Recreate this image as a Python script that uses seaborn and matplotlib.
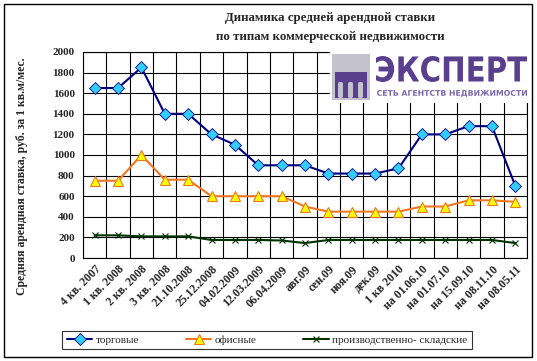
import numpy as np
import pandas as pd
import matplotlib
matplotlib.use('Agg')
import matplotlib.pyplot as plt
import seaborn as sns
from matplotlib.textpath import TextPath
from matplotlib.font_manager import FontProperties
from matplotlib.patches import PathPatch, Rectangle, FancyBboxPatch
from matplotlib.transforms import Affine2D

# %%
periods = ['4 кв. 2007', '1 кв. 2008', '2 кв. 2008', '3 кв. 2008', '21.10.2008',
           '25.12.2008', '04.02.2009', '12.03.2009', '06.04.2009', 'авг.09',
           'сен.09', 'ноя.09', 'дек.09', '1 кв 2010', 'на 01.06.10',
           'на 01.07.10', 'на 15.09.10', 'на 08.11.10', 'на 08.05.11']
retail = [1650, 1650, 1850, 1400, 1400, 1200, 1100, 900, 900, 900,
          820, 820, 820, 870, 1200, 1200, 1280, 1280, 700]
office = [750, 750, 1000, 760, 760, 600, 600, 600, 600, 500,
          450, 450, 450, 450, 500, 500, 560, 560, 545]
warehouse = [220, 220, 210, 210, 210, 175, 175, 175, 170, 145,
             175, 175, 175, 175, 175, 175, 175, 175, 145]
series_names = ['торговые', 'офисные', 'производственно- складские']
yticks = list(range(0, 2001, 200))

df = pd.DataFrame({'period': periods, 'retail': retail,
                   'office': office, 'warehouse': warehouse})
df['pos'] = np.arange(len(periods))

# %%
sns.set_style('white')
plt.rcParams['font.family'] = ['Liberation Serif', 'DejaVu Serif']

W, H = 537, 361
fig = plt.figure(figsize=(W / 100, H / 100), dpi=100)
ax = fig.add_axes([83 / W, 1 - 258 / H, 444 / W, 206 / H])

sns.lineplot(data=df, x='pos', y='retail', ax=ax, color='#000080', lw=1.5,
             marker='D', markersize=6, markerfacecolor='#33CCFF',
             markeredgecolor='#000080', markeredgewidth=0.6, label=series_names[0], zorder=5)
sns.lineplot(data=df, x='pos', y='office', ax=ax, color='#F07820', lw=1.5,
             marker='^', markersize=7, markerfacecolor='#FFFF00',
             markeredgecolor='#F07820', markeredgewidth=0.8, label=series_names[1], zorder=4)
sns.lineplot(data=df, x='pos', y='warehouse', ax=ax, color='#003300', lw=1.5,
             marker='x', markersize=5, markeredgecolor='#003300',
             markeredgewidth=0.8, label=series_names[2], zorder=3)

ax.set_xlim(-0.5, len(periods) - 0.5)
ax.set_ylim(0, 2000)
ax.set_yticks(yticks)
ax.set_yticklabels([str(v) for v in yticks], fontsize=8, fontweight='bold')
ax.set_xticks(np.arange(-0.5, len(periods)))
ax.set_xticklabels([])
ax.set_xticks(df['pos'], minor=True)
ax.set_xticklabels(periods, minor=True, rotation=45, ha='right',
                   rotation_mode='anchor', fontsize=8.5, fontweight='bold')
ax.tick_params(axis='x', which='minor', length=0, pad=4)
ax.tick_params(axis='x', which='major', length=4, direction='out', width=0.8)
ax.tick_params(axis='y', length=4, direction='out', width=0.8, pad=2)
ax.grid(True, which='major', color='black', lw=0.8)
for s in ax.spines.values():
    s.set_color('black')
    s.set_linewidth(0.8)
ax.set_xlabel('')
ax.set_ylabel('')
ax.get_legend().remove()

# titles
fig.text(330 / W, 1 - 18 / H, 'Динамика средней арендной ставки', ha='center',
         va='center', fontsize=9.3, fontweight='bold')
fig.text(330 / W, 1 - 37 / H, 'по типам коммерческой недвижимости', ha='center',
         va='center', fontsize=9.3, fontweight='bold')
fig.text(22 / W, 1 - 176 / H, 'Средняя арендная ставка, руб. за 1 кв.м/мес.',
         rotation=90, ha='center', va='center', fontsize=8.5, fontweight='bold')

# legend
handles, labels = ax.get_legend_handles_labels()
leg = fig.legend(handles, labels, loc='center', ncol=3,
                 bbox_to_anchor=(267 / W, 1 - 340 / H), fontsize=8,
                 frameon=True, fancybox=False, edgecolor='black',
                 handlelength=2.3, handletextpad=0.3, columnspacing=4.2,
                 borderpad=0.4, borderaxespad=0)
leg.get_frame().set_linewidth(0.8)

# logo
purple = '#5A3F8E'
fig.add_artist(Rectangle((330 / W, 1 - 103 / H), 199 / W, 52 / H,
                         transform=fig.transFigure, facecolor='white',
                         edgecolor='none', zorder=6))
fig.add_artist(Rectangle((332 / W, 1 - 100 / H), 38 / W, 46 / H,
                         transform=fig.transFigure, facecolor='#C4C2CC',
                         edgecolor='none', zorder=7))
fig.add_artist(Rectangle((335 / W, 1 - 98 / H), 32 / W, 26 / H,
                         transform=fig.transFigure, facecolor=purple,
                         edgecolor='none', zorder=8))
for k in range(3):
    fig.add_artist(FancyBboxPatch(((338 + k * 10) / W, 1 - 98 / H), 5 / W, 16 / H,
                                  boxstyle='round,pad=0,rounding_size=0.004',
                                  transform=fig.transFigure, facecolor='#C4C2CC',
                                  edgecolor='none', zorder=9))


def fit_text(txt, x0, y0, x1, y1, color, weight='bold'):
    tp = TextPath((0, 0), txt, size=10,
                  prop=FontProperties(family='DejaVu Sans', weight=weight))
    ext = tp.get_extents()
    sx = (x1 - x0) / ext.width
    sy = (y1 - y0) / ext.height
    tr = (Affine2D().translate(-ext.x0, -ext.y0).scale(sx / W, sy / H)
          .translate(x0 / W, 1 - y1 / H) + fig.transFigure)
    fig.add_artist(PathPatch(tp, transform=tr, facecolor=color,
                             edgecolor='none', zorder=9))


fit_text('ЭКСПЕРТ', 376, 56, 527, 82, purple)
fit_text('СЕТЬ АГЕНТСТВ НЕДВИЖИМОСТИ', 377, 90, 527, 97, '#7A68A8')

# outer frame
fig.add_artist(Rectangle((4 / W, 1 - 357 / H), 528 / W, 353 / H,
                         transform=fig.transFigure, facecolor='none',
                         edgecolor='black', lw=1.0, zorder=10))

fig.savefig('out.png', dpi=100)
